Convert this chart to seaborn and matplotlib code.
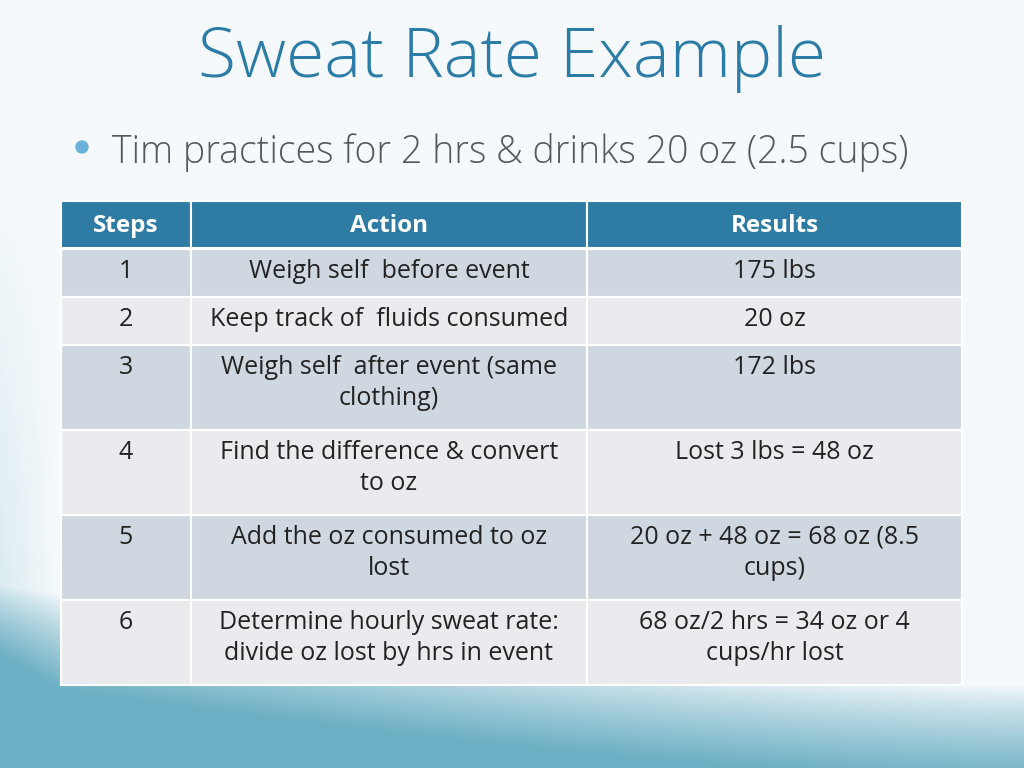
import numpy as np
import matplotlib
matplotlib.use("Agg")
import matplotlib.pyplot as plt
from matplotlib.patches import Rectangle, Circle
import seaborn as sns

# slide content
title = "Sweat Rate Example"
bullet = "Tim practices for 2 hrs & drinks 20 oz (2.5 cups)"
columns = ["Steps", "Action", "Results"]
steps = ["1", "2", "3", "4", "5", "6"]
actions = [
    "Weigh self  before event",
    "Keep track of  fluids consumed",
    "Weigh self  after event (same\nclothing)",
    "Find the difference & convert\nto oz",
    "Add the oz consumed to oz\nlost",
    "Determine hourly sweat rate:\ndivide oz lost by hrs in event",
]
results = [
    "175 lbs",
    "20 oz",
    "172 lbs",
    "Lost 3 lbs = 48 oz",
    "20 oz + 48 oz = 68 oz (8.5\ncups)",
    "68 oz/2 hrs = 34 oz or 4\ncups/hr lost",
]

sns.set_theme(style="white")
plt.rcParams["font.family"] = ["Open Sans", "DejaVu Sans"]

fig = plt.figure(figsize=(10.24, 7.68), dpi=100)
ax = fig.add_axes([0, 0, 1, 1])
ax.set_xlim(0, 1024)
ax.set_ylim(768, 0)
ax.axis("off")

# background: pale top, teal wave at the bottom
yy, xx = np.mgrid[0:768, 0:1024].astype(float)
light = np.array([0.965, 0.980, 0.988])
teal = np.array([0.43, 0.69, 0.77])
edge = 685 - 100 * (1 - xx / 1024) ** 1.5
t = np.clip((yy - edge) / 95, 0, 1) ** 0.8
side = np.clip((60 - xx) / 60, 0, 1) * np.clip((yy - 150) / 500, 0, 1) * 0.22
t = np.clip(t + side, 0, 1)
bg = light[None, None, :] * (1 - t[..., None]) + teal[None, None, :] * t[..., None]
ax.imshow(bg, extent=(0, 1024, 768, 0), aspect="auto", zorder=0)

ax.text(512, 59, title, ha="center", va="center", fontsize=50,
        fontweight="light", color="#2b7ca6", zorder=3)
ax.add_patch(Circle((82, 147), 6, color="#6ab2d9", zorder=3))
ax.text(112, 153, bullet, ha="left", va="center", fontsize=27,
        fontweight="light", color="#555a5e", zorder=3)

# table
col_edges = [61, 191, 587, 962]
header_top, header_h = 201, 47
top = header_top + header_h + 1
for j, name in enumerate(columns):
    x0, x1 = col_edges[j], col_edges[j + 1]
    ax.add_patch(Rectangle((x0, header_top), x1 - x0, header_h,
                           facecolor="#2e7ba3", edgecolor="white", lw=1.5, zorder=2))
    ax.text((x0 + x1) / 2, header_top + header_h / 2 + 1, name, ha="center",
            va="center", fontsize=17.5, fontweight="bold", color="white", zorder=3)

for i in range(len(steps)):
    cells = [steps[i], actions[i], results[i]]
    n_lines = max(c.count("\n") + 1 for c in cells)
    h = 48 if n_lines == 1 else 85
    fc = "#cfd8e0" if i % 2 == 0 else "#e9ebef"
    for j, txt in enumerate(cells):
        x0, x1 = col_edges[j], col_edges[j + 1]
        ax.add_patch(Rectangle((x0, top), x1 - x0, h, facecolor=fc,
                               edgecolor="white", lw=1.5, zorder=2))
        ax.text((x0 + x1) / 2, top + 10, txt, ha="center", va="top",
                fontsize=18, color="#222222", linespacing=1.32, zorder=3)
    top += h

fig.savefig("out.png", dpi=100)
